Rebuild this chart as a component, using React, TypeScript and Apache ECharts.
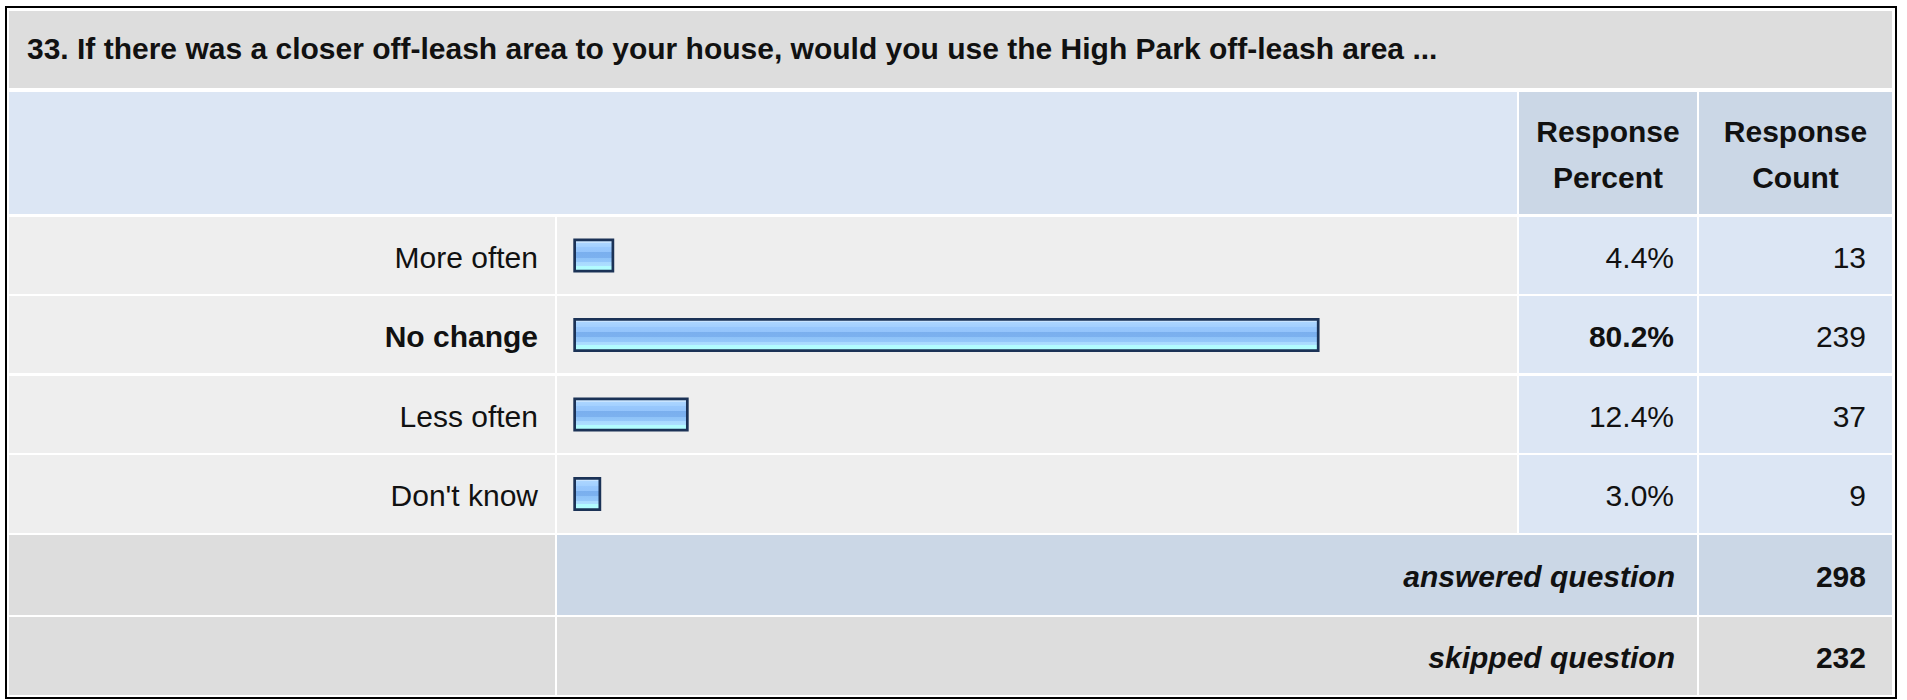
import React, { useEffect, useRef } from "react";
import * as echarts from "echarts";

const title =
  "33. If there was a closer off-leash area to your house, would you use the High Park off-leash area ...";
const categories = ["More often", "No change", "Less often", "Don't know"];
const percents = [4.4, 80.2, 12.4, 3.0];
const counts = [13, 239, 37, 9];
const headerPercent = ["Response", "Percent"];
const headerCount = ["Response", "Count"];
const footerLabels = ["answered question", "skipped question"];
const footerCounts = [298, 232];

const FONT = '"Liberation Sans", Arial, Helvetica, sans-serif';
const FS = 30;
const TXT = "#111111";

export default function App() {
  const ref = useRef<HTMLDivElement>(null);

  useEffect(() => {
    if (!ref.current) return;
    const chart = echarts.init(ref.current, null, { renderer: "svg" });
    const maxIdx = percents.indexOf(Math.max(...percents));

    // layout (page pixels)
    const colLabel = [9, 555];
    const colBar = [557, 1517];
    const colPct = [1519, 1697];
    const colCnt = [1699, 1892];
    const rowTitle = [11, 88];
    const rowHead = [92, 214];
    const rowData = [
      [217, 294],
      [296, 373],
      [376, 453],
      [455, 533],
    ];
    const rowFoot = [
      [535, 615],
      [617, 695],
    ];

    const rect = (x0: number, x1: number, y0: number, y1: number, fill: string) => ({
      type: "rect",
      z: 0,
      shape: { x: x0, y: y0, width: x1 - x0, height: y1 - y0 },
      style: { fill },
    });
    const text = (
      t: string,
      x: number,
      y: number,
      align: string,
      weight: string,
      style: string = "normal"
    ) => ({
      type: "text",
      z: 20,
      x,
      y,
      style: {
        text: t,
        fill: TXT,
        font: `${style} ${weight} ${FS}px ${FONT}`,
        fontFamily: FONT,
        fontSize: FS,
        fontWeight: weight,
        fontStyle: style,
        textAlign: align,
        textVerticalAlign: "middle",
        verticalAlign: "middle",
      },
    });

    const graphics: any[] = [];
    // outer border
    graphics.push({
      type: "rect",
      z: 0,
      shape: { x: 6, y: 7, width: 1890, height: 691 },
      style: { fill: "#ffffff", stroke: "#000000", lineWidth: 2 },
    });
    // title
    graphics.push(rect(colLabel[0], colCnt[1], rowTitle[0], rowTitle[1], "#dddddd"));
    // header
    graphics.push(rect(colLabel[0], colBar[1], rowHead[0], rowHead[1], "#dce6f4"));
    graphics.push(rect(colPct[0], colPct[1], rowHead[0], rowHead[1], "#cbd7e6"));
    graphics.push(rect(colCnt[0], colCnt[1], rowHead[0], rowHead[1], "#cbd7e6"));
    // data rows
    rowData.forEach(([y0, y1]) => {
      graphics.push(rect(colLabel[0], colLabel[1], y0, y1, "#eeeeee"));
      graphics.push(rect(colBar[0], colBar[1], y0, y1, "#eeeeee"));
      graphics.push(rect(colPct[0], colPct[1], y0, y1, "#dce6f4"));
      graphics.push(rect(colCnt[0], colCnt[1], y0, y1, "#dce6f4"));
    });
    // footer rows
    const footFill = ["#cbd7e6", "#dddddd"];
    rowFoot.forEach(([y0, y1], i) => {
      graphics.push(rect(colLabel[0], colLabel[1], y0, y1, "#dddddd"));
      graphics.push(rect(colBar[0], colPct[1], y0, y1, footFill[i]));
      graphics.push(rect(colCnt[0], colCnt[1], y0, y1, footFill[i]));
      graphics.push(text(footerLabels[i], 1675, (y0 + y1) / 2 + 1.5, "right", "bold", "italic"));
      graphics.push(text(String(footerCounts[i]), 1866, (y0 + y1) / 2 + 1.5, "right", "bold"));
    });
    // title text
    graphics.push(text(title, 27, (rowTitle[0] + rowTitle[1]) / 2 - 1, "left", "bold"));
    // header texts
    const pc = (colPct[0] + colPct[1]) / 2;
    const cc = (colCnt[0] + colCnt[1]) / 2;
    graphics.push(text(headerPercent[0], pc, 131, "center", "bold"));
    graphics.push(text(headerPercent[1], pc, 177, "center", "bold"));
    graphics.push(text(headerCount[0], cc, 131, "center", "bold"));
    graphics.push(text(headerCount[1], cc, 177, "center", "bold"));

    const gridLeft = 573.3;
    const gridWidth = 930.5;
    const gridTop = 215.75;
    const gridHeight = 318;

    const labelRich = {
      n: { fontFamily: FONT, fontSize: FS, color: TXT, fontWeight: "normal", padding: [3, 0, 0, 0] },
      b: { fontFamily: FONT, fontSize: FS, color: TXT, fontWeight: "bold", padding: [3, 0, 0, 0] },
    };

    chart.setOption({
      animation: false,
      backgroundColor: "#ffffff",
      graphic: { elements: graphics },
      grid: {
        left: gridLeft,
        top: gridTop,
        width: gridWidth,
        height: gridHeight,
        containLabel: false,
      },
      xAxis: { type: "value", min: 0, max: 100, show: false },
      yAxis: [
        {
          type: "category",
          data: categories,
          inverse: true,
          position: "left",
          z: 10,
          axisLine: { show: false },
          axisTick: { show: false },
          splitLine: { show: false },
          axisLabel: {
            margin: gridLeft - 538,
            align: "right",
            formatter: (v: string, i: number) => (i === maxIdx ? `{b|${v}}` : `{n|${v}}`),
            rich: labelRich,
          },
        },
        {
          type: "category",
          data: percents.map((p) => `${p.toFixed(1)}%`),
          inverse: true,
          position: "right",
          z: 10,
          axisLine: { show: false },
          axisTick: { show: false },
          splitLine: { show: false },
          axisLabel: {
            margin: 1674 - (gridLeft + gridWidth),
            align: "right",
            formatter: (v: string, i: number) => (i === maxIdx ? `{b|${v}}` : `{n|${v}}`),
            rich: labelRich,
          },
        },
        {
          type: "category",
          data: counts.map((c) => String(c)),
          inverse: true,
          position: "right",
          z: 10,
          axisLine: { show: false },
          axisTick: { show: false },
          splitLine: { show: false },
          axisLabel: {
            margin: 1866 - (gridLeft + gridWidth),
            align: "right",
            formatter: (v: string) => `{n|${v}}`,
            rich: labelRich,
          },
        },
      ],
      series: [
        {
          type: "bar",
          yAxisIndex: 0,
          data: percents,
          barWidth: 34,
          z: 10,
          itemStyle: {
            borderColor: "#1b3256",
            borderWidth: 2.7,
            color: new echarts.graphic.LinearGradient(0, 0, 0, 1, [
              { offset: 0, color: "#c8e4ff" },
              { offset: 0.1, color: "#c8e4ff" },
              { offset: 0.1, color: "#abd5ff" },
              { offset: 0.23, color: "#a3d0ff" },
              { offset: 0.23, color: "#98c8fd" },
              { offset: 0.39, color: "#94c4fb" },
              { offset: 0.39, color: "#7aafee" },
              { offset: 0.57, color: "#7cb1ef" },
              { offset: 0.57, color: "#8ec2f8" },
              { offset: 0.71, color: "#94c8fa" },
              { offset: 0.71, color: "#a8d9ff" },
              { offset: 0.82, color: "#acdfff" },
              { offset: 0.82, color: "#b2fbff" },
              { offset: 1, color: "#b2ffff" },
            ]),
          },
        },
      ],
    });

    return () => chart.dispose();
  }, []);

  return (
    <div
      ref={ref}
      style={{ position: "fixed", left: 0, top: 0, width: 1907, height: 700, background: "#fff" }}
    />
  );
}
